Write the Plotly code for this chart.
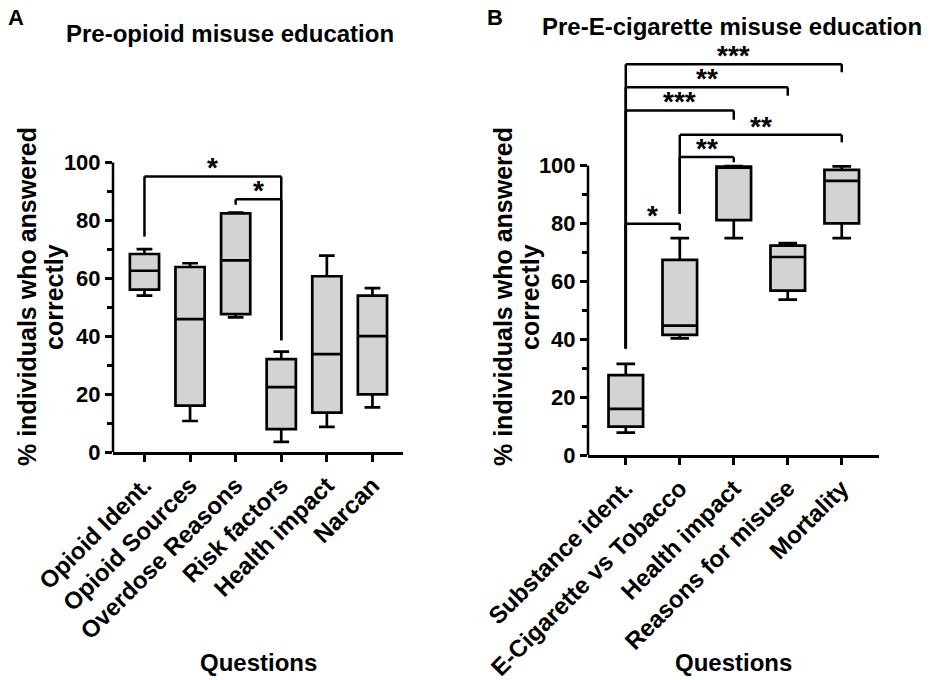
import plotly.graph_objects as go

# PANEL A - PRE-OPIOID MISUSE EDUCATION (% correct, box summary)
opioid_questions = ["Opioid Ident.", "Opioid Sources", "Overdose Reasons",
                    "Risk factors", "Health impact", "Narcan"]
opioid_min = [54.0, 10.7, 46.5, 3.5, 8.7, 15.4]
opioid_q1 = [56.1, 16.0, 47.6, 7.9, 13.6, 19.9]
opioid_median = [62.6, 45.9, 66.2, 22.4, 33.8, 40.0]
opioid_q3 = [68.4, 63.9, 82.4, 32.1, 60.7, 54.0]
opioid_max = [70.1, 65.2, 82.7, 34.7, 67.8, 56.6]

# PANEL B - PRE-E-CIGARETTE MISUSE EDUCATION
ecig_questions = ["Substance ident.", "E-Cigarette vs Tobacco", "Health impact",
                  "Reasons for misuse", "Mortality"]
ecig_min = [7.7, 40.3, 74.9, 53.7, 74.9]
ecig_q1 = [9.8, 41.5, 81.1, 56.8, 80.0]
ecig_median = [15.9, 44.7, 99.5, 68.4, 94.7]
ecig_q3 = [27.6, 67.4, 99.6, 72.3, 98.5]
ecig_max = [31.5, 74.9, 99.8, 73.2, 99.7]

# significance brackets: (from index, to index, bracket height, left leg end, right leg end, label)
opioid_brackets = [
    (0, 3, 95.2, 74.4, 38.6, "*"),
    (2, 3, 87.3, 85.4, 38.6, "*"),
]
ecig_brackets = [
    (0, 4, 135.0, 36.8, 132.2, "***"),
    (0, 3, 127.0, 36.8, 124.1, "**"),
    (0, 2, 119.0, 36.8, 115.8, "***"),
    (1, 4, 110.6, 83.3, 108.0, "**"),
    (1, 2, 102.9, 83.3, 101.1, "**"),
    (0, 1, 79.9, 36.8, 77.6, "*"),
]

W, H = 935, 680
FONT = "Arial, Liberation Sans, sans-serif"
PX_PER_UNIT = 2.895
YMAX = 142


def px(x):
    return x / W


def py(y):
    return 1 - y / H


def ydom(bottom_px):
    top_px = bottom_px - YMAX * PX_PER_UNIT
    return [py(bottom_px), py(top_px)]


fig = go.Figure()

box_style = dict(fillcolor="#d3d3d3", line=dict(color="black", width=2.7),
                 width=0.64, whiskerwidth=0.54, showlegend=False, hoverinfo="y")

fig.add_trace(go.Box(x=opioid_questions, q1=opioid_q1, median=opioid_median,
                     q3=opioid_q3, lowerfence=opioid_min, upperfence=opioid_max,
                     xaxis="x", yaxis="y", **box_style))
fig.add_trace(go.Box(x=ecig_questions, q1=ecig_q1, median=ecig_median,
                     q3=ecig_q3, lowerfence=ecig_min, upperfence=ecig_max,
                     xaxis="x2", yaxis="y2", **box_style))

xtickfont = dict(family=FONT, size=24, color="black", weight="bold")
ytickfont = dict(family=FONT, size=22, color="black", weight="bold")
xcommon = dict(type="category", showline=True, linecolor="black", linewidth=2.5,
               ticks="outside", ticklen=7, tickwidth=2.5, tickcolor="black",
               tickangle=-45, tickfont=xtickfont, showgrid=False, zeroline=False,
               automargin=False)
ycommon = dict(range=[0, YMAX], showline=False, ticks="outside", ticklen=7,
               tickwidth=2.5, tickcolor="black", tickvals=[0, 20, 40, 60, 80, 100],
               tickfont=ytickfont, showgrid=False, zeroline=False, automargin=False,
               minor=dict(tickvals=[10, 30, 50, 70, 90], ticks="outside",
                          ticklen=5, tickwidth=2.5, tickcolor="black"))

fig.update_layout(
    template="none",
    width=W, height=H,
    margin=dict(l=0, r=0, t=0, b=0, pad=0),
    paper_bgcolor="white", plot_bgcolor="white",
    xaxis=dict(domain=[px(113), px(403)], range=[-0.69, 5.67], anchor="y", **xcommon),
    yaxis=dict(domain=ydom(452), anchor="x", **ycommon),
    xaxis2=dict(domain=[px(588), px(879)], range=[-0.70, 4.69], anchor="y2", **xcommon),
    yaxis2=dict(domain=ydom(455), anchor="x2", **ycommon),
)

shapes = []
annotations = []

# y axis lines stop at 100
for xa, ya in [("x", "y"), ("x2", "y2")]:
    shapes.append(dict(type="line", xref=xa + " domain", yref=ya, x0=0, x1=0,
                       y0=0, y1=100, line=dict(color="black", width=2.5)))

# brackets
for brackets, xa, ya in [(opioid_brackets, "x", "y"), (ecig_brackets, "x2", "y2")]:
    for a, b, h, left_end, right_end, label in brackets:
        line = dict(color="black", width=2.5)
        shapes.append(dict(type="line", xref=xa, yref=ya, x0=a, x1=a, y0=left_end, y1=h, line=line))
        shapes.append(dict(type="line", xref=xa, yref=ya, x0=a, x1=b, y0=h, y1=h, line=line))
        shapes.append(dict(type="line", xref=xa, yref=ya, x0=b, x1=b, y0=right_end, y1=h, line=line))
        annotations.append(dict(xref=xa, yref=ya, x=(a + b) / 2, y=h, text=label,
                                showarrow=False, yanchor="bottom", yshift=-9,
                                font=dict(family=FONT, size=28, color="black", weight="bold")))

title_font = dict(family=FONT, size=24, color="black", weight="bold")
ytitle_font = dict(family=FONT, size=25, color="black", weight="bold")
label_font = dict(family=FONT, size=22, color="black", weight="bold")

texts = [
    ("A", 6, 17, "left", label_font, 0),
    ("B", 485, 17, "left", label_font, 0),
    ("Pre-opioid misuse education", 230, 33, "center", title_font, 0),
    ("Pre-E-cigarette misuse education", 732, 27, "center", title_font, 0),
    ("Questions", 258, 662, "center", title_font, 0),
    ("Questions", 733, 662, "center", title_font, 0),
    ("% individuals who answered", 27, 297, "center", ytitle_font, -90),
    ("correctly", 54, 297, "center", ytitle_font, -90),
    ("% individuals who answered", 503, 297, "center", ytitle_font, -90),
    ("correctly", 530, 297, "center", ytitle_font, -90),
]
for text, xp, yp, anchor, font, angle in texts:
    annotations.append(dict(xref="paper", yref="paper", x=px(xp), y=py(yp),
                            text=text, showarrow=False, xanchor=anchor,
                            yanchor="middle", font=font, textangle=angle))

fig.update_layout(shapes=shapes, annotations=annotations)

# drop the default 8px page margin so the figure fills the window
fig.write_html("out.html", config={"displayModeBar": False},
               post_script="document.body.style.margin = '0';")
